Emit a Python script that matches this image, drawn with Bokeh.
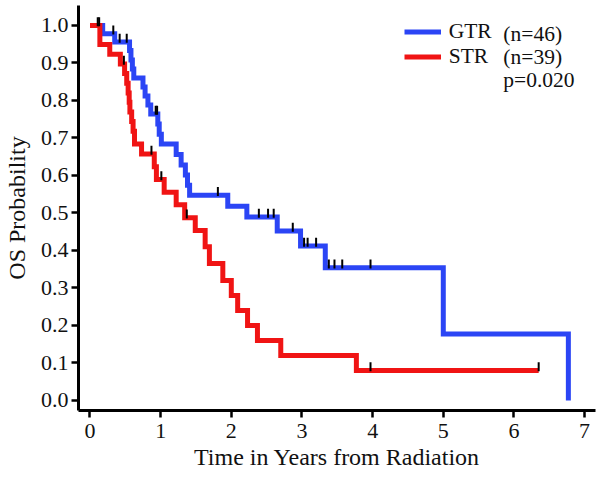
import numpy as np
from bokeh.plotting import figure
from bokeh.models import FixedTicker, Legend, LegendItem, Label, PrintfTickFormatter
from bokeh.embed import file_html
from bokeh.resources import INLINE

# ---- data ----
gtr_time = [0.0, 0.18, 0.35, 0.56, 0.58, 0.60, 0.62, 0.75, 0.78, 0.82, 0.86,
            0.96, 0.98, 1.01, 1.22, 1.29, 1.35, 1.38, 1.41, 1.95, 2.22, 2.65,
            2.98, 3.33, 5.00, 6.77]
gtr_surv = [1.0, 0.978, 0.956, 0.933, 0.908, 0.884, 0.860, 0.836, 0.812, 0.788, 0.764,
            0.737, 0.710, 0.684, 0.656, 0.628, 0.601, 0.574, 0.547, 0.518, 0.489, 0.452,
            0.412, 0.354, 0.177, 0.0]
gtr_censor = [0.11, 0.13, 0.33, 0.42, 0.52, 0.93, 0.95, 1.81, 2.39, 2.52, 2.60,
              2.87, 3.03, 3.08, 3.20, 3.38, 3.46, 3.57, 3.97]

str_time = [0.0, 0.14, 0.28, 0.43, 0.49, 0.52, 0.54, 0.555, 0.565, 0.59, 0.61, 0.63,
            0.73, 0.91, 0.94, 1.05, 1.22, 1.34, 1.49, 1.63, 1.69, 1.88, 2.00, 2.09,
            2.23, 2.37, 2.70, 3.77, 6.35]
str_surv = [1.0, 0.949, 0.923, 0.897, 0.872, 0.846, 0.820, 0.795, 0.769, 0.744, 0.718, 0.684,
            0.657, 0.623, 0.589, 0.555, 0.522, 0.487, 0.453, 0.410, 0.365, 0.320, 0.280, 0.240,
            0.200, 0.160, 0.120, 0.080, 0.080]
str_censor = [0.48, 0.87, 1.01, 1.37, 3.97, 6.35]

group_labels = ["GTR", "STR"]
group_n = ["(n=46)", "(n=39)"]
p_text = "p=0.020"
x_title = "Time in Years from Radiation"
y_title = "OS Probability"

x_ticks = [0, 1, 2, 3, 4, 5, 6, 7]
y_ticks = [0.0, 0.1, 0.2, 0.3, 0.4, 0.5, 0.6, 0.7, 0.8, 0.9, 1.0]

BLUE = "#2B45F5"
RED = "#F01414"
FONT = "Liberation Serif"
TXT = "#111111"


def surv_at(times, surv, ts):
    times = np.asarray(times)
    surv = np.asarray(surv)
    idx = np.searchsorted(times, np.asarray(ts), side="right") - 1
    return surv[idx]


p = figure(width=613, height=477, output_backend="svg", toolbar_location=None,
           x_range=(-0.1624, 7.154), y_range=(-0.0267, 1.0533),
           min_border_left=77, min_border_right=18, min_border_top=5,
           min_border_bottom=67)
p.outline_line_color = None
p.grid.visible = False
p.background_fill_color = "white"
p.border_fill_color = "white"

blue_r = p.step(gtr_time, gtr_surv, mode="after", line_color=BLUE, line_width=5,
                line_join="miter")
red_r = p.step(str_time, str_surv, mode="after", line_color=RED, line_width=5,
               line_join="miter")

tick_off = 0.010
p.scatter(gtr_censor, surv_at(gtr_time, gtr_surv, gtr_censor) + tick_off,
          marker="dash", angle=np.pi / 2, size=9, line_color="black", line_width=2)
p.scatter(str_censor, surv_at(str_time, str_surv, str_censor) + tick_off,
          marker="dash", angle=np.pi / 2, size=9, line_color="black", line_width=2)

p.xaxis.ticker = FixedTicker(ticks=x_ticks)
p.yaxis.ticker = FixedTicker(ticks=y_ticks)
p.yaxis.formatter = PrintfTickFormatter(format="%.1f")
p.xaxis.axis_label = x_title
p.yaxis.axis_label = y_title

for ax in p.axis:
    ax.axis_line_width = 3
    ax.axis_line_color = "black"
    ax.major_tick_line_width = 2.5
    ax.major_tick_line_color = "black"
    ax.major_tick_out = 7
    ax.major_tick_in = 0
    ax.minor_tick_out = 0
    ax.minor_tick_in = 0
    ax.major_label_text_font = FONT
    ax.major_label_text_font_size = "22px"
    ax.major_label_text_color = TXT
    ax.axis_label_text_font = FONT
    ax.axis_label_text_font_size = "24px"
    ax.axis_label_text_font_style = "normal"
    ax.axis_label_text_color = TXT

p.yaxis.major_label_standoff = 3
p.yaxis.axis_label_standoff = 8
p.xaxis.major_label_standoff = 6
p.xaxis.axis_label_standoff = 3

legend = Legend(items=[LegendItem(label=group_labels[0], renderers=[blue_r]),
                       LegendItem(label=group_labels[1], renderers=[red_r])],
                location=(325.7, 341), margin=0, padding=0, spacing=0,
                glyph_width=37, glyph_height=23, label_height=23, label_standoff=8,
                label_text_font=FONT, label_text_font_size="21.5px",
                label_text_color=TXT,
                background_fill_alpha=0, border_line_alpha=0)
p.add_layout(legend)

for txt, yv in [(group_n[0], 0.977), (group_n[1], 0.915), (p_text, 0.854)]:
    p.add_layout(Label(x=5.85, y=yv, text=txt, text_font=FONT,
                       text_font_size="21.5px", text_color=TXT,
                       text_baseline="middle", text_align="left"))

open("out.html", "w").write(file_html(p, INLINE))
